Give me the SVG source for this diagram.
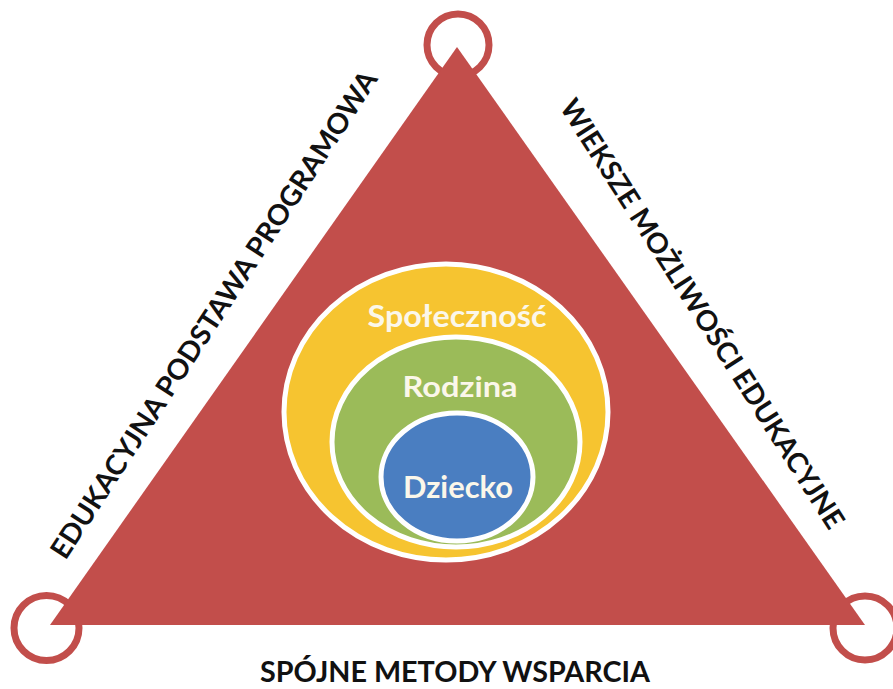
<svg xmlns="http://www.w3.org/2000/svg" width="893" height="689" viewBox="0 0 893 689">
<style>
.ring{fill:none;stroke:#c24e4b;stroke-width:7}
.side{font-family:Lato,"Noto Sans",sans-serif;font-weight:700;font-size:28px;fill:#111;text-anchor:middle}
.inner{font-family:Lato,"Noto Sans",sans-serif;font-weight:700;fill:#fbf7ea;text-anchor:middle}
.ell{stroke:#ffffff;stroke-width:5}
</style>
<rect width="893" height="689" fill="#ffffff"/>
<g id="corners">
<circle class="ring" cx="458" cy="45" r="31"/>
<circle class="ring" cx="46.5" cy="628" r="32.5"/>
<circle class="ring" cx="865" cy="628" r="32"/>
</g>
<g id="triangle">
<polygon points="457,47 50,625 865,625" fill="#c24e4b"/>
</g>
<g id="spolecznosc">
<ellipse class="ell" cx="446" cy="412" rx="162" ry="148" fill="#f6c430"/>
<text class="inner" x="457" y="327" font-size="30" textLength="179" lengthAdjust="spacingAndGlyphs">Społeczność</text>
</g>
<g id="rodzina">
<ellipse class="ell" cx="456" cy="442" rx="124" ry="105" fill="#9bbb59"/>
<text class="inner" x="460" y="397" font-size="29" textLength="115" lengthAdjust="spacingAndGlyphs">Rodzina</text>
</g>
<g id="dziecko">
<ellipse class="ell" cx="457" cy="477" rx="76" ry="64" fill="#4a7ec1"/>
<text class="inner" x="458" y="498" font-size="31" textLength="110" lengthAdjust="spacingAndGlyphs">Dziecko</text>
</g>
<g id="labels">
<text class="side" transform="translate(222,320) rotate(-57)" x="0" y="0" textLength="575" lengthAdjust="spacingAndGlyphs">EDUKACYJNA PODSTAWA PROGRAMOWA</text>
<text class="side" transform="translate(694,319) rotate(57.5)" x="0" y="0" textLength="503" lengthAdjust="spacingAndGlyphs">WIEKSZE MOŻLIWOŚCI EDUKACYJNE</text>
<text class="side" x="455" y="682" font-size="27" textLength="390" lengthAdjust="spacingAndGlyphs">SPÓJNE METODY WSPARCIA</text>
</g>
<g id="connectors"></g>
</svg>
